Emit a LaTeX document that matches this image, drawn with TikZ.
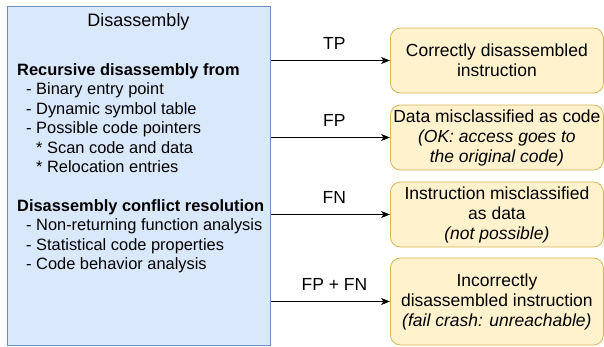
\documentclass[tikz,border=0pt]{standalone}
\usepackage{fontspec}
\setmainfont{Liberation Sans}
\usetikzlibrary{arrows.meta}
\definecolor{bfill}{HTML}{DAE8FC}
\definecolor{bdraw}{HTML}{6C8EBF}
\definecolor{yfill}{HTML}{FFF2CC}
\definecolor{ydraw}{HTML}{D6B656}
\tikzset{
  resbox/.style={draw=ydraw, fill=yfill, rounded corners=10pt, line width=0.8pt,
    minimum width=213pt, inner sep=0pt, align=center, anchor=west,
    font=\fontsize{17.5}{20}\selectfont},
  conn/.style={-{Stealth[length=9pt,width=7pt,inset=2.5pt]}, line width=0.8pt},
  lbl/.style={font=\fontsize{17.5}{20}\selectfont, anchor=center, inner sep=0pt, yshift=17pt, xshift=4pt},
}
\begin{document}
\begin{tikzpicture}[x=1pt,y=-1pt]
\useasboundingbox (0,0) rectangle (604,346);
\node[draw=bdraw, fill=bfill, line width=0.8pt, minimum width=263pt, minimum height=339pt, inner sep=0pt, anchor=north west] (dis) at (7,6) {};
\node[font=\fontsize{18}{20}\selectfont, inner sep=0pt] (title) at (138.5,22) {Disassembly};
\node[anchor=north west, inner sep=0pt, align=left, font=\fontsize{16.4}{19.4}\selectfont] (txt) at (17,63.5)
{\textbf{Recursive disassembly from}\\
\hspace*{9pt}- Binary entry point\\
\hspace*{9pt}- Dynamic symbol table\\
\hspace*{9pt}- Possible code pointers\\
\hspace*{19pt}* Scan code and data\\
\hspace*{19pt}* Relocation entries\\[19.4pt]
\textbf{Disassembly conflict resolution}\\
\hspace*{9pt}- Non-returning function analysis\\
\hspace*{9pt}- Statistical code properties\\
\hspace*{9pt}- Code behavior analysis};

\node[resbox, minimum height=65pt] (tp) at (390,60.5) {Correctly disassembled\\instruction};
\node[resbox, minimum height=65pt] (fp) at (390,137.5) {Data misclassified as code\\\textit{(OK: access goes to}\\\textit{the original code)}};
\node[resbox, minimum height=65pt] (fn) at (390,214.5) {Instruction misclassified\\as data\\\textit{(not possible)}};
\node[resbox, minimum height=87pt] (fpfn) at (390,301.5) {Incorrectly\\disassembled instruction\\\textit{(fail crash: unreachable)}};

\draw[conn] (dis.east |- tp.west) -- node[lbl] {TP} (tp.west);
\draw[conn] (dis.east |- fp.west) -- node[lbl] {FP} (fp.west);
\draw[conn] (dis.east |- fn.west) -- node[lbl] {FN} (fn.west);
\draw[conn] (dis.east |- fpfn.west) -- node[lbl] {FP + FN} (fpfn.west);
\end{tikzpicture}
\end{document}
